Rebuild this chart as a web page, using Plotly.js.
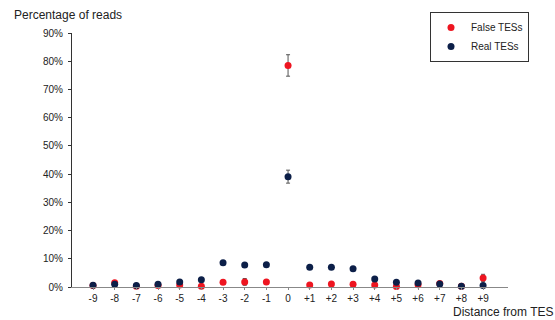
<!DOCTYPE html>
<html><head><meta charset="utf-8">
<script src="https://cdn.plot.ly/plotly-3.0.1.min.js"></script>
<style>html,body{margin:0;padding:0;background:#fff}#c{width:555px;height:320px}</style>
</head><body><div id="c"></div>
<script>
const positions = [-9,-8,-7,-6,-5,-4,-3,-2,-1,0,1,2,3,4,5,6,7,8,9];
const tickLabels = ["-9","-8","-7","-6","-5","-4","-3","-2","-1","0","+1","+2","+3","+4","+5","+6","+7","+8","+9"];
const falseTES = [0.5,1.5,0.3,0.5,0.7,0.3,1.7,1.8,1.8,78.5,0.7,1.1,1.0,0.7,0.2,0.8,1.2,0.3,3.2];
const falseErr = [0.3,0.5,0.2,0.3,0.3,0.2,0.5,1.2,0.6,3.8,0.3,0.4,0.3,0.5,0.2,0.3,0.5,0.2,1.3];
const realTES = [0.6,1.0,0.5,1.0,1.8,2.6,8.6,7.8,7.9,39.1,7.0,7.0,6.5,2.8,1.7,1.4,1.1,0.3,0.5];
const realErr = [0.2,0.3,0.2,0.3,0.4,0.5,0.5,0.5,0.5,2.3,0.4,0.4,0.4,0.4,0.3,0.3,0.3,0.2,0.2];

const font = {family:"Liberation Sans, Arial, sans-serif", size:10, color:"#222"};
const errStyle = {type:"data", visible:true, thickness:1, width:2, color:"#555"};
const traces = [
 {x:positions, y:falseTES, name:"False TESs", mode:"markers", type:"scatter", cliponaxis:false,
  marker:{color:"#ee1520", size:7}, error_y:Object.assign({array:falseErr}, errStyle)},
 {x:positions, y:realTES, name:"Real TESs", mode:"markers", type:"scatter", cliponaxis:false,
  marker:{color:"#0c1f48", size:7}, error_y:Object.assign({array:realErr}, errStyle)}
];
const PW = 436, PH = 254;
const layout = {
 width:555, height:320, margin:{l:72, r:47, t:33, b:33},
 paper_bgcolor:"#fff", plot_bgcolor:"#fff", font:font, showlegend:true,
 xaxis:{range:[-9.97,10.15], tickvals:positions, ticktext:tickLabels, showgrid:false, zeroline:false,
   showline:true, linecolor:"#888", linewidth:1, ticks:"outside", ticklen:2, tickcolor:"#888", tickfont:font},
 yaxis:{range:[0,90], tickvals:[0,10,20,30,40,50,60,70,80,90], ticktext:["0%","10%","20%","30%","40%","50%","60%","70%","80%","90%"],
   showgrid:false, zeroline:false, showline:true, linecolor:"#333", linewidth:1, ticks:"outside", ticklen:3, tickcolor:"#333",
   ticklabelstandoff:3, tickfont:font},
 legend:{x:(430-72)/PW, y:1+(33-12)/PH, xanchor:"left", yanchor:"top", bordercolor:"#333", borderwidth:1,
   bgcolor:"#fff", font:{family:font.family, size:10, color:"#222"}, itemwidth:30, tracegroupgap:6},
 annotations:[
  {text:"Percentage of reads", xref:"paper", yref:"paper", x:-60/PW, y:1+(33-15)/PH, xanchor:"left", yanchor:"middle", showarrow:false, font:{family:font.family,size:12,color:"#222"}},
  {text:"Distance from TES", xref:"paper", yref:"paper", x:1+47/PW, y:-(311.5-287)/PH, xanchor:"right", yanchor:"middle", showarrow:false, font:{family:font.family,size:12,color:"#222"}}
 ]
};
Plotly.newPlot("c", traces, layout, {staticPlot:true, displayModeBar:false});
</script></body></html>
